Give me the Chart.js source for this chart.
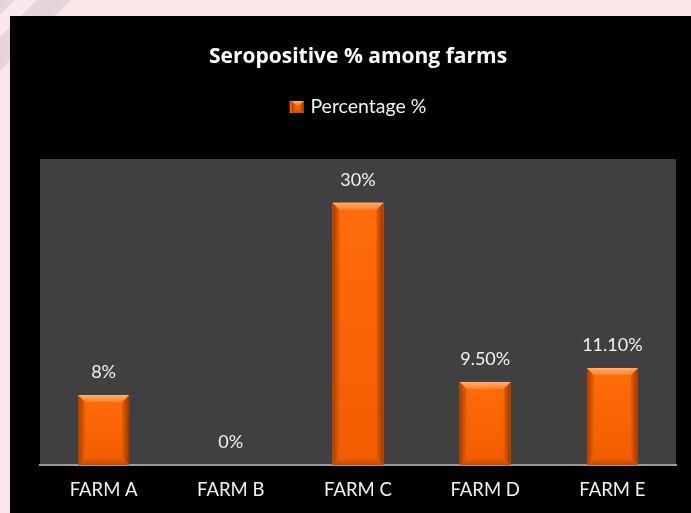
<!DOCTYPE html>
<html>
<head>
<meta charset="utf-8">
<script src="https://cdn.jsdelivr.net/npm/chart.js@4/dist/chart.umd.min.js"></script>
<style>
  html, body { margin: 0; padding: 0; }
  body { width: 691px; height: 513px; overflow: hidden; position: relative; background: #f8e6e9; }
  .deco { position: absolute; left: 0; top: 0; width: 691px; height: 513px;
    background: linear-gradient(135deg, #e6d5d9 0 10px, #f9e8eb 10px 26px, #e6d5d9 26px 50px, transparent 50px); }
  #wrap { position: absolute; left: 10px; top: 16px; width: 681px; height: 497px; background: #000; }
  canvas { display: block; }
</style>
</head>
<body>
<div class="deco"></div>
<div id="wrap"><canvas id="chart" width="681" height="497"></canvas></div>
<script>
// Farm categories and seropositive percentages
const categories = ['FARM A', 'FARM B', 'FARM C', 'FARM D', 'FARM E'];
const percentages = [8, 0, 30, 9.5, 11.1];
const seriesName = 'Percentage %';
const chartTitle = 'Seropositive % among farms';

// whole numbers print plainly, fractional ones with two decimals
const formatPct = v => Number.isInteger(v) ? v + '%' : v.toFixed(2) + '%';

const FONT = 'Lato, "Open Sans", sans-serif';
const ORANGE = '#ff6600';

function poly(ctx, pts, fill) {
  ctx.beginPath();
  ctx.moveTo(pts[0][0], pts[0][1]);
  for (let i = 1; i < pts.length; i++) ctx.lineTo(pts[i][0], pts[i][1]);
  ctx.closePath();
  ctx.fillStyle = fill;
  ctx.fill();
}

// bevelled orange block (used for bars and the legend swatch)
function bevelRect(ctx, L, T, R, B, b) {
  const w = R - L, h = B - T;
  if (h <= 0.5 || w <= 0) return;
  const bb = Math.min(b, w / 2, h / 2);
  let g = ctx.createLinearGradient(0, T, 0, B);
  g.addColorStop(0, '#ff6c0a');
  g.addColorStop(1, '#f25c00');
  ctx.fillStyle = g;
  ctx.fillRect(L, T, w, h);

  g = ctx.createLinearGradient(L, 0, L + bb, 0);
  g.addColorStop(0, '#a83c00');
  g.addColorStop(1, '#ee6000');
  poly(ctx, [[L, T], [L + bb, T + bb], [L + bb, B - bb], [L, B]], g);

  g = ctx.createLinearGradient(R - bb, 0, R, 0);
  g.addColorStop(0, '#ea5c00');
  g.addColorStop(1, '#9c3800');
  poly(ctx, [[R, T], [R - bb, T + bb], [R - bb, B - bb], [R, B]], g);

  g = ctx.createLinearGradient(0, B - bb, 0, B);
  g.addColorStop(0, '#f05e00');
  g.addColorStop(1, '#c84a00');
  poly(ctx, [[L, B], [L + bb, B - bb], [R - bb, B - bb], [R, B]], g);

  g = ctx.createLinearGradient(0, T, 0, T + bb);
  g.addColorStop(0, '#ffb070');
  g.addColorStop(1, '#ff8028');
  poly(ctx, [[L, T], [R, T], [R - bb, T + bb], [L + bb, T + bb]], g);
}

const plotBackground = {
  id: 'plotBackground',
  beforeDraw(chart) {
    const { ctx, chartArea: a } = chart;
    ctx.save();
    ctx.fillStyle = '#404040';
    ctx.fillRect(a.left, a.top, a.right - a.left, a.bottom - a.top);
    ctx.restore();
  }
};

const bevelBars = {
  id: 'bevelBars',
  afterDatasetsDraw(chart) {
    const ctx = chart.ctx;
    const meta = chart.getDatasetMeta(0);
    ctx.save();
    meta.data.forEach((el, i) => {
      const p = el.getProps(['x', 'y', 'base', 'width'], true);
      const L = p.x - p.width / 2, R = p.x + p.width / 2;
      bevelRect(ctx, L, Math.min(p.y, p.base), R, Math.max(p.y, p.base), 7);
      // value label above the bar
      ctx.font = '18px ' + FONT;
      ctx.fillStyle = '#f2f2f2';
      ctx.textAlign = 'center';
      ctx.textBaseline = 'middle';
      ctx.fillText(formatPct(percentages[i]), p.x, p.y - 23);
    });
    ctx.restore();
  },
  afterDraw(chart) {
    const lg = chart.legend;
    if (!lg || !lg.legendHitBoxes || !lg.legendHitBoxes.length) return;
    const hb = lg.legendHitBoxes[0];
    const bw = 12, bh = 12;
    const top = hb.top + (hb.height - bh) / 2;
    chart.ctx.save();
    bevelRect(chart.ctx, hb.left + 2, top, hb.left + 2 + bw, top + bh, 4);
    chart.ctx.restore();
  }
};

new Chart(document.getElementById('chart'), {
  type: 'bar',
  data: {
    labels: categories,
    datasets: [{
      label: seriesName,
      data: percentages,
      backgroundColor: ORANGE,
      borderWidth: 0,
      categoryPercentage: 0.8,
      barPercentage: 0.5
    }]
  },
  options: {
    responsive: false,
    maintainAspectRatio: false,
    animation: false,
    devicePixelRatio: 1,
    layout: { padding: { left: 30, right: 15, top: 0, bottom: 10.4 } },
    plugins: {
      title: {
        display: true,
        text: chartTitle,
        color: '#ffffff',
        font: { family: '"Open Sans", Lato, sans-serif', size: 21, weight: 'bold', lineHeight: 1.2 },
        padding: { top: 28.4, bottom: 17.65 }
      },
      legend: {
        display: true,
        position: 'top',
        labels: {
          color: '#f2f2f2',
          font: { family: FONT, size: 19.5 },
          boxWidth: 11,
          boxHeight: 12,
          padding: 10
        }
      },
      // blank band between the legend and the plot
      subtitle: {
        display: true,
        text: ' ',
        weight: 500,
        font: { size: 10, lineHeight: 1 },
        padding: { top: 0, bottom: 22.25 }
      },
      tooltip: { enabled: false }
    },
    scales: {
      x: {
        grid: { display: false, drawTicks: false },
        border: { display: true, color: '#999999', width: 2 },
        ticks: { color: '#f2f2f2', font: { family: FONT, size: 18.5 }, padding: 14 },
        afterFit(scale) { scale.height = 37.6; }
      },
      y: {
        display: false,
        min: 0,
        max: 35
      }
    }
  },
  plugins: [plotBackground, bevelBars]
});
</script>
</body>
</html>
